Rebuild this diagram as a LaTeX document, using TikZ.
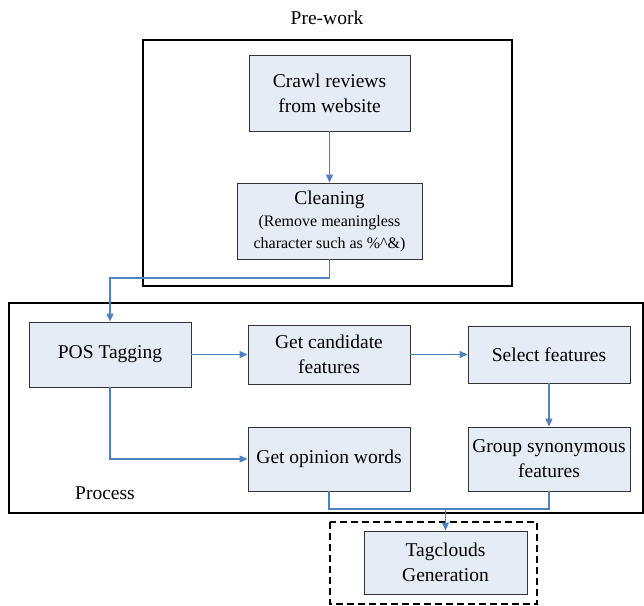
\documentclass[tikz,border=0pt]{standalone}
\usepackage{fontspec}
\setmainfont{Liberation Serif}
\usetikzlibrary{arrows.meta}
\definecolor{boxfill}{RGB}{230,236,246}
\definecolor{conn}{RGB}{79,129,189}
\begin{document}
\begin{tikzpicture}[x=1pt,y=-1pt,
  stepbox/.style={draw=black!80,fill=boxfill,line width=0.9pt,inner sep=0pt,align=center,
    font=\fontsize{19.5}{25}\selectfont},
  arr/.style={draw=conn,line width=1.1pt,-{Triangle[length=8pt,width=7pt]}},
  lnk/.style={draw=conn,line width=1.1pt},
  frame/.style={draw=black,line width=1.1pt},
  lbl/.style={font=\fontsize{19.5}{25}\selectfont,inner sep=0pt}]
\useasboundingbox (0,0) rectangle (644,605);
% containers
\draw[frame] (143,40) rectangle (512,286);
\draw[frame] (9,303) rectangle (643,513);
\draw[black,line width=2pt,dash pattern=on 7pt off 4pt] (330,522) rectangle (537,604);
\node[lbl] (pretitle) at (327,18) {Pre-work};
\node[lbl] (proctitle) at (105,493) {Process};
% boxes
\node[stepbox,minimum width=161pt,minimum height=76pt] (crawl) at (329.5,93) {Crawl reviews\\from website};
\node[stepbox,minimum width=185pt,minimum height=76pt] (clean) at (329.5,221)
  {Cleaning\\[-3pt]{\fontsize{16}{21}\selectfont(Remove meaningless}\\[-3pt]{\fontsize{16}{21}\selectfont character such as \%\textasciicircum\&)}};
\node[stepbox,minimum width=162pt,minimum height=65pt] (pos) at (110,354.5) {POS Tagging};
\node[stepbox,minimum width=162pt,minimum height=59pt] (cand) at (329,354.5) {Get candidate\\features};
\node[stepbox,minimum width=162pt,minimum height=57pt] (sel) at (549,354.5) {Select features};
\node[stepbox,minimum width=162pt,minimum height=64pt] (opin) at (329,459) {Get opinion words};
\node[stepbox,minimum width=162pt,minimum height=64pt] (group) at (549,459) {Group synonymous\\features};
\node[stepbox,minimum width=163pt,minimum height=63pt] (tag) at (445.5,562.5) {Tagclouds\\Generation};
% connectors
\coordinate (c1) at (329.5,278);
\coordinate (m) at (445.5,509);
\draw[arr] (crawl) -- (clean);
\draw[lnk] (clean.south) -- (c1);
\draw[arr] (c1) -| (pos.north);
\draw[arr] (pos.east) -- (cand.west);
\draw[arr] (cand.east) -- (sel.west);
\draw[arr] (sel.south) -- (group.north);
\draw[arr] (pos.south) |- (opin.west);
\draw[lnk] (opin.south) |- (m);
\draw[lnk] (group.south) |- (m);
\draw[arr] (m) -- (tag.north);
\end{tikzpicture}
\end{document}
